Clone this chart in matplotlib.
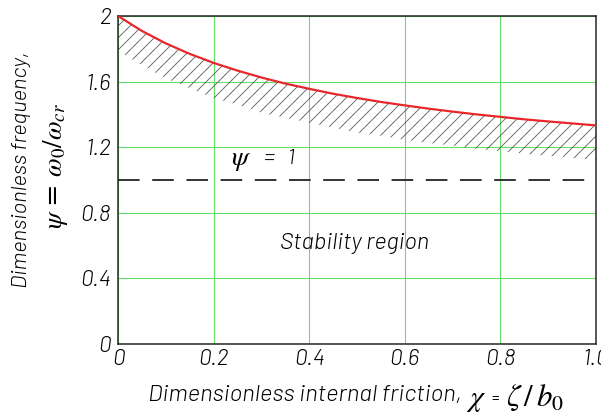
import matplotlib
matplotlib.use("Agg")
import matplotlib.pyplot as plt
from matplotlib import font_manager

# Data
chi = [0.0, 0.05, 0.1, 0.15, 0.2, 0.25, 0.3, 0.35, 0.4, 0.45, 0.5,
       0.55, 0.6, 0.65, 0.7, 0.75, 0.8, 0.85, 0.9, 0.95, 1.0]
psi_boundary = [2.0, 1.909, 1.833, 1.769, 1.714, 1.667, 1.625, 1.588, 1.556, 1.526, 1.5,
                1.476, 1.455, 1.435, 1.417, 1.4, 1.385, 1.37, 1.357, 1.345, 1.333]
hatch_lower = [1.79, 1.70, 1.62, 1.56, 1.50, 1.46, 1.41, 1.38, 1.35, 1.32, 1.29,
               1.27, 1.245, 1.225, 1.21, 1.19, 1.175, 1.16, 1.147, 1.135, 1.123]
psi_ref = 1.0
xticks = [0, 0.2, 0.4, 0.6, 0.8, 1.0]
xticklabels = ["0", "0.2", "0.4", "0.6", "0.8", "1.0"]
yticks = [0, 0.4, 0.8, 1.2, 1.6, 2.0]
yticklabels = ["0", "0.4", "0.8", "1.2", "1.6", "2"]

names = {f.name for f in font_manager.fontManager.ttflist}
if 'Barlow' in names:
    fam, scale = ['Barlow', 'DejaVu Sans'], 1.0
elif 'Barlow Semi Condensed' in names:
    fam, scale = ['Barlow Semi Condensed', 'DejaVu Sans'], 1.08
else:
    fam, scale = ['DejaVu Sans'], 0.85

plt.rcParams['hatch.linewidth'] = 0.8
plt.rcParams['hatch.color'] = '#555555'
plt.rcParams['mathtext.fontset'] = 'stix'

DPI = 72
fig = plt.figure(figsize=(601 / DPI, 417 / DPI), dpi=DPI)
ax = fig.add_axes([118 / 601, 1 - 344 / 417, 478 / 601, 328 / 417])

font = dict(family=fam, style='italic', weight=300)

ax.fill_between(chi, hatch_lower, psi_boundary, facecolor='none', edgecolor='#555555',
                hatch='//', linewidth=0)
ax.plot(chi, psi_boundary, color='#e8262a', lw=2.2, zorder=5)
ax.axhline(psi_ref, color='#222222', lw=1.8, dashes=(12, 7), zorder=4)

ax.set_xlim(0, 1.0)
ax.set_ylim(0, 2.0)
ax.set_xticks(xticks)
ax.set_xticklabels(xticklabels, fontsize=23 * scale, **font)
ax.set_yticks(yticks)
ax.set_yticklabels(yticklabels, fontsize=23 * scale, **font)
ax.tick_params(axis='x', length=0, pad=5)
ax.tick_params(axis='y', length=0, pad=7)
ax.grid(True, color='#66dd66', lw=1.1)
ax.set_axisbelow(True)
for s in ax.spines.values():
    s.set_linewidth(1.5)
    s.set_color('#222222')

ax.text(0.237, 1.09, r'$\psi$', fontsize=28, va='baseline', ha='left')
ax.text(0.305, 1.095, '=   1', fontsize=22 * scale, va='baseline', ha='left', **font)
ax.text(0.495, 0.61, 'Stability region', fontsize=23.5 * scale, ha='center', va='center', **font)

# x label
t1 = fig.text(148 / 601, 1 - 401 / 417, 'Dimensionless internal friction,', fontsize=24 * scale,
              va='baseline', ha='left', **font)
ax.annotate(r'$\chi$', xy=(1, 0), xycoords=t1, xytext=(4, 0), textcoords='offset points',
            fontsize=30, va='baseline', ha='left')
ax.annotate('=', xy=(1, 0), xycoords=t1, xytext=(30, 3), textcoords='offset points',
            fontsize=15, va='baseline', ha='left', family=fam)
ax.annotate(r'$\zeta\,/\,b_0$', xy=(1, 0), xycoords=t1,
            xytext=(44, 0), textcoords='offset points', fontsize=31, va='baseline', ha='left')

# y label
fig.text(22 / 601, 1 - 170 / 417, 'Dimensionless frequency,', fontsize=22 * scale, rotation=90,
         va='center', ha='center', **font)
fig.text(55 / 601, 1 - 166 / 417, r'$\psi\,\mathregular{=}\,\omega_0/\omega_{cr}$',
         fontsize=27, rotation=90, va='center', ha='center')

fig.savefig('out.png', dpi=DPI)
